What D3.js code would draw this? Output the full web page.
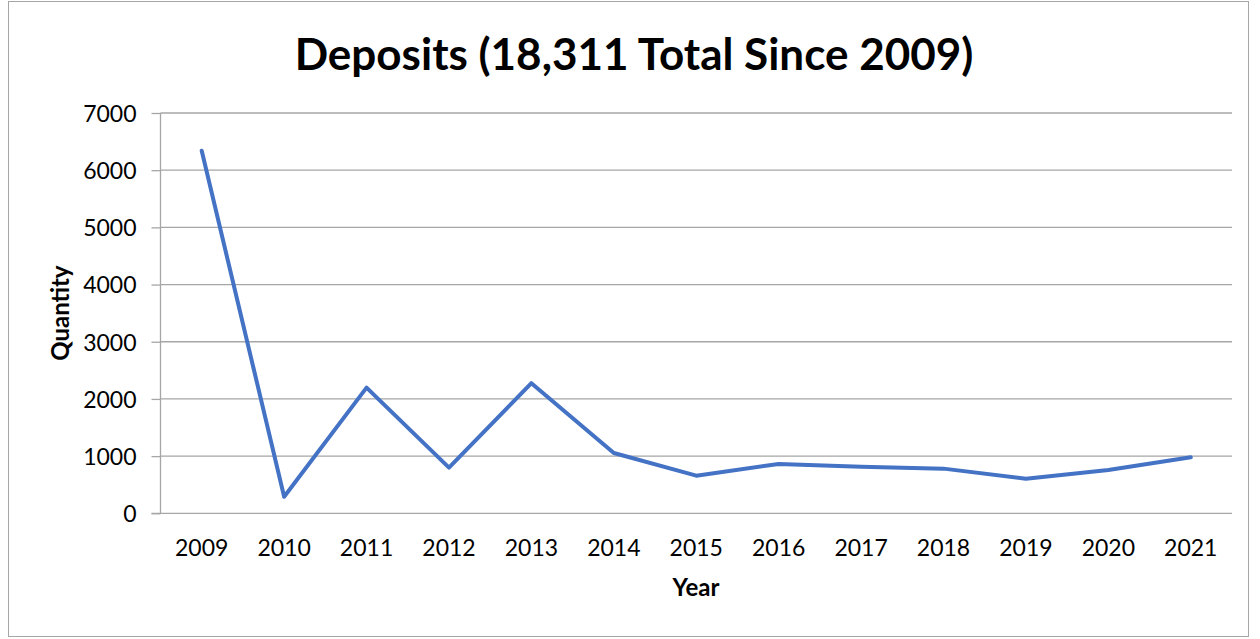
<!DOCTYPE html>
<html>
<head>
<meta charset="utf-8">
<script src="https://cdn.jsdelivr.net/npm/d3@7"></script>
<style>
  body { margin: 0; background: #fff; }
  text { font-family: Lato, "Open Sans", sans-serif; fill: #000; }
</style>
</head>
<body>
<svg id="chart" width="1260" height="639"></svg>
<script>
const years = ["2009", "2010", "2011", "2012", "2013", "2014", "2015", "2016", "2017", "2018", "2019", "2020", "2021"];
const deposits = [6340, 290, 2198, 798, 2275, 1055, 658, 863, 816, 781, 606, 758, 980];
const yTicks = [0, 1000, 2000, 3000, 4000, 5000, 6000, 7000];

let svg = d3.select("#chart"),
    margin = {top: 113, right: 28, bottom: 126, left: 160.5},
    width = 1232 - margin.left,
    height = 513.3 - margin.top;

// outer chart border
svg.append("rect")
  .attr("x", 8.5).attr("y", 1.5)
  .attr("width", 1240).attr("height", 635)
  .attr("fill", "none").attr("stroke", "#a6a6a6").attr("stroke-width", 1);

let x = d3.scaleBand().domain(years).range([0, width]),
    y = d3.scaleLinear().domain([0, 7000]).range([height, 0]);

let g = svg.append("g").attr("transform", "translate(" + margin.left + "," + margin.top + ")");

// gridlines
g.append("g")
  .selectAll("line")
  .data(yTicks.slice(1))
  .enter().append("line")
  .attr("x1", 0).attr("x2", width)
  .attr("y1", d => y(d)).attr("y2", d => y(d))
  .attr("stroke", "#a6a6a6").attr("stroke-width", 1.3);

// y axis
let yAxis = g.append("g")
  .call(d3.axisLeft(y).tickValues(yTicks).tickSize(9).tickPadding(15).tickFormat(d3.format("d")));
yAxis.select(".domain").attr("stroke", "#a6a6a6").attr("stroke-width", 1.3).attr("d", "M0," + height + "V0");
yAxis.selectAll(".tick line").attr("stroke", "#a6a6a6").attr("stroke-width", 1.3);
yAxis.selectAll(".tick text").style("font-size", "23px").attr("dy", "0.36em");

// x axis
let xAxis = g.append("g")
  .attr("transform", "translate(0," + height + ")")
  .call(d3.axisBottom(x).tickSize(0).tickPadding(34));
xAxis.select(".domain").attr("stroke", "#a6a6a6").attr("stroke-width", 1.3).attr("d", "M-9,0H" + width);
xAxis.selectAll(".tick text").style("font-size", "23px").attr("dy", "0.36em");

// series line
let line = d3.line()
  .x((d, i) => x(years[i]) + x.bandwidth() / 2)
  .y(d => y(d));

g.append("path")
  .datum(deposits)
  .attr("d", line)
  .attr("fill", "none")
  .attr("stroke", "#4472c4")
  .attr("stroke-width", 4)
  .attr("stroke-linejoin", "round")
  .attr("stroke-linecap", "round");

// titles
svg.append("text")
  .attr("x", 634).attr("y", 70)
  .attr("text-anchor", "middle")
  .style("font-size", "44px").style("font-weight", "bold")
  .text("Deposits (18,311 Total Since 2009)");

svg.append("text")
  .attr("transform", "translate(69," + (margin.top + height / 2) + ") rotate(-90)")
  .attr("text-anchor", "middle")
  .style("font-size", "24px").style("font-weight", "bold")
  .text("Quantity");

svg.append("text")
  .attr("x", 696).attr("y", 596)
  .attr("text-anchor", "middle")
  .style("font-size", "24px").style("font-weight", "bold")
  .text("Year");
</script>
</body>
</html>
